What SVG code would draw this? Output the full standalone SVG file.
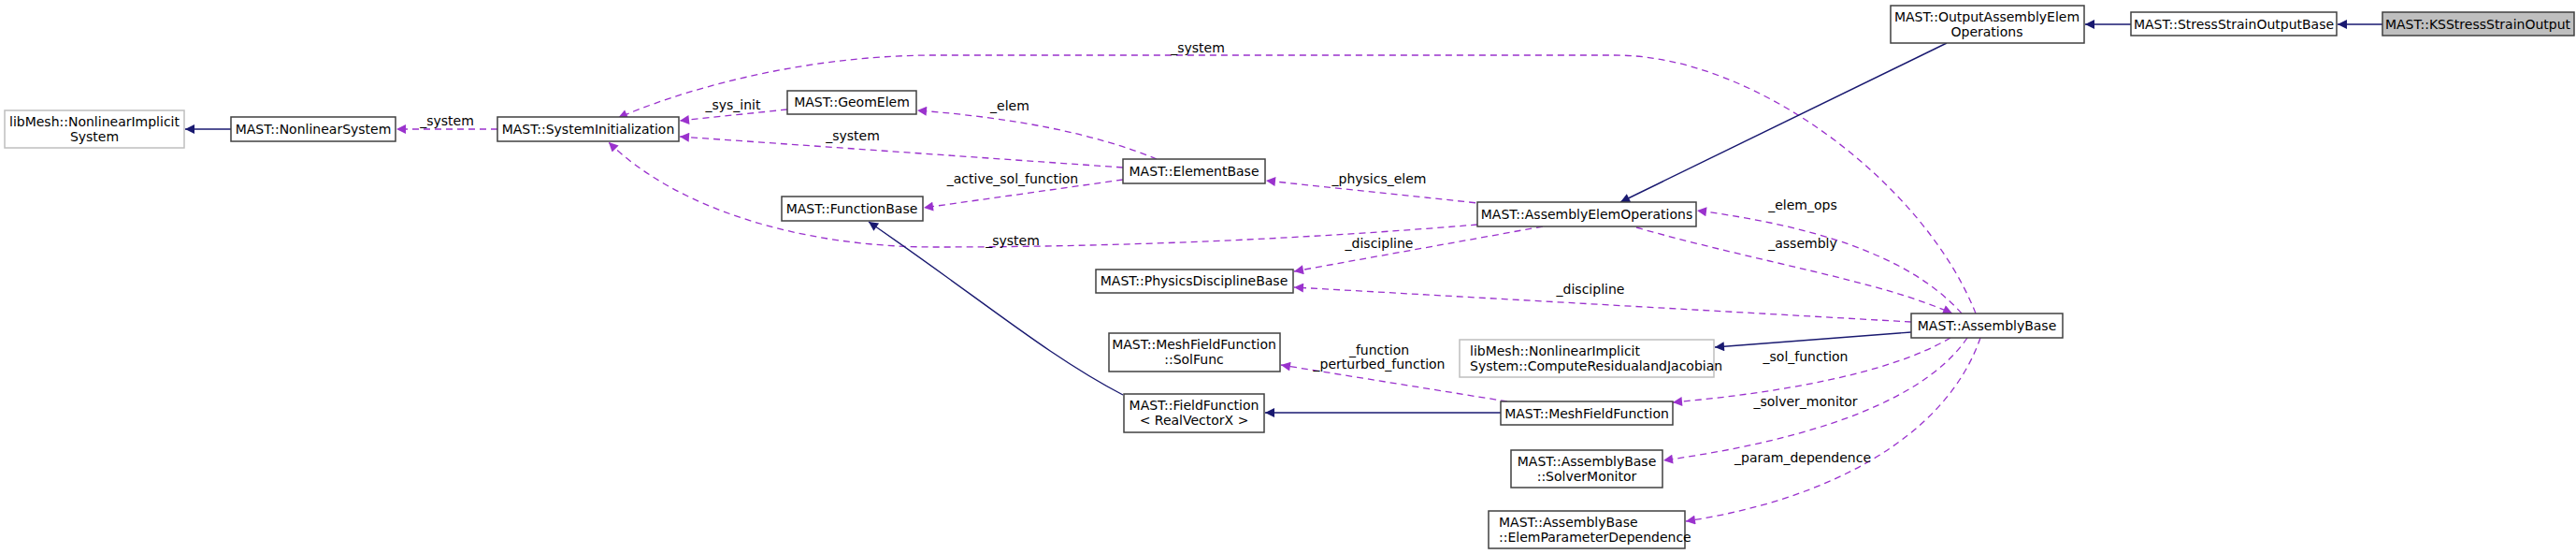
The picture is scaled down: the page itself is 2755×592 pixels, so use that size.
<svg xmlns="http://www.w3.org/2000/svg" width="2755" height="592" viewBox="0 0 2755 592">
<style>
text{font-family:"DejaVu Sans","Liberation Sans",sans-serif;font-size:14px;fill:#000}
.n{fill:#fff;stroke:#404040;stroke-width:1.5}
.g{fill:#fff;stroke:#bfbfbf;stroke-width:1.5}
.h{fill:#bfbfbf;stroke:#404040;stroke-width:1.5}
.d{fill:none;stroke:#9a32cd;stroke-width:1.3;stroke-dasharray:7,5;marker-end:url(#ap)}
.s{fill:none;stroke:#191970;stroke-width:1.4;marker-end:url(#an)}
.l{text-anchor:middle}
</style>
<defs>
<marker id="ap" viewBox="0 0 10 10" refX="10" refY="5" markerWidth="12" markerHeight="10" markerUnits="userSpaceOnUse" orient="auto"><path d="M0,0L10,5L0,10z" fill="#9a32cd"/></marker>
<marker id="an" viewBox="0 0 10 10" refX="10" refY="5" markerWidth="12" markerHeight="10" markerUnits="userSpaceOnUse" orient="auto"><path d="M0,0L10,5L0,10z" fill="#191970"/></marker>
</defs>
<g id="connectors">
<path class="s" d="M247,138H198"/>
<path class="d" d="M532,138H424"/>
<path class="d" d="M842,117L727,129"/>
<path class="d" d="M1201,179L727,146"/>
<path class="d" d="M1237,170Q1140,130 981,118"/>
<path class="d" d="M1201,192L988,222"/>
<path class="d" d="M1590,218L1354,193"/>
<path class="d" d="M1580,240C1400,255 1200,264 1000,264C850,264 720,220 651,152"/>
<path class="d" d="M1650,242L1384,290"/>
<path class="d" d="M2044,344L1384,307"/>
<path class="d" d="M2098,335C2040,270 1930,240 1815,225"/>
<path class="d" d="M1750,243C1880,280 2010,300 2088,335"/>
<path class="d" d="M2113,335C2060,200 1880,59 1727,59H1000C850,59 720,100 661,126"/>
<path class="s" d="M2082,46L1733,216"/>
<path class="s" d="M2279,26H2230"/>
<path class="s" d="M2548,26H2500"/>
<path class="s" d="M1201,422C1120,380 1050,320 929,237"/>
<path class="s" d="M1606,441H1353"/>
<path class="d" d="M1612,429L1370,390"/>
<path class="s" d="M2044,355L1834,371"/>
<path class="d" d="M2086,361C2020,400 1900,420 1789,430"/>
<path class="d" d="M2104,361C2050,440 1900,475 1779,492"/>
<path class="d" d="M2118,361C2080,470 1950,535 1803,557"/>
<text class="l" x="478" y="134">_system</text>
<text class="l" x="784" y="117">_sys_init</text>
<text class="l" x="912" y="150">_system</text>
<text class="l" x="1080" y="118">_elem</text>
<text class="l" x="1083" y="196">_active_sol_function</text>
<text class="l" x="1475" y="196">_physics_elem</text>
<text class="l" x="1083" y="262">_system</text>
<text class="l" x="1475" y="265">_discipline</text>
<text class="l" x="1701" y="314">_discipline</text>
<text class="l" x="1928" y="224">_elem_ops</text>
<text class="l" x="1928" y="265">_assembly</text>
<text class="l" x="1281" y="56">_system</text>
<text class="l" x="1475" y="379">_function</text>
<text class="l" x="1475" y="394">_perturbed_function</text>
<text class="l" x="1931" y="386">_sol_function</text>
<text class="l" x="1931" y="434">_solver_monitor</text>
<text class="l" x="1928" y="494">_param_dependence</text>
</g>
<g id="libMeshNIS"><rect class="g" x="5" y="118" width="192" height="40"/><text class="l" x="101" y="135">libMesh::NonlinearImplicit</text><text class="l" x="101" y="151">System</text></g>
<g id="NonlinearSystem"><rect class="n" x="247" y="125" width="176" height="26"/><text class="l" x="335" y="143">MAST::NonlinearSystem</text></g>
<g id="SystemInitialization"><rect class="n" x="532" y="125" width="194" height="26"/><text class="l" x="629" y="143">MAST::SystemInitialization</text></g>
<g id="GeomElem"><rect class="n" x="842" y="97" width="138" height="25"/><text class="l" x="911" y="114">MAST::GeomElem</text></g>
<g id="FunctionBase"><rect class="n" x="836" y="210" width="151" height="26"/><text class="l" x="911" y="228">MAST::FunctionBase</text></g>
<g id="ElementBase"><rect class="n" x="1201" y="170" width="152" height="26"/><text class="l" x="1277" y="188">MAST::ElementBase</text></g>
<g id="AssemblyElemOperations"><rect class="n" x="1580" y="216" width="234" height="26"/><text class="l" x="1697" y="234">MAST::AssemblyElemOperations</text></g>
<g id="PhysicsDisciplineBase"><rect class="n" x="1172" y="288" width="211" height="25"/><text class="l" x="1277" y="305">MAST::PhysicsDisciplineBase</text></g>
<g id="SolFunc"><rect class="n" x="1186" y="356" width="183" height="41"/><text class="l" x="1277" y="373">MAST::MeshFieldFunction</text><text class="l" x="1277" y="389">::SolFunc</text></g>
<g id="ComputeResidual"><rect class="g" x="1561" y="363" width="272" height="40"/><text x="1572" y="380">libMesh::NonlinearImplicit</text><text x="1572" y="396">System::ComputeResidualandJacobian</text></g>
<g id="FieldFunction"><rect class="n" x="1202" y="421" width="150" height="41"/><text class="l" x="1277" y="438">MAST::FieldFunction</text><text class="l" x="1277" y="454">&lt; RealVectorX &gt;</text></g>
<g id="MeshFieldFunction"><rect class="n" x="1605" y="429" width="184" height="25"/><text class="l" x="1697" y="447">MAST::MeshFieldFunction</text></g>
<g id="SolverMonitor"><rect class="n" x="1616" y="481" width="162" height="40"/><text class="l" x="1697" y="498">MAST::AssemblyBase</text><text class="l" x="1697" y="514">::SolverMonitor</text></g>
<g id="ElemParameterDependence"><rect class="n" x="1592" y="546" width="210" height="40"/><text x="1603" y="563">MAST::AssemblyBase</text><text x="1603" y="579">::ElemParameterDependence</text></g>
<g id="OutputAssemblyElemOperations"><rect class="n" x="2022" y="6" width="207" height="40"/><text class="l" x="2125" y="23">MAST::OutputAssemblyElem</text><text class="l" x="2125" y="39">Operations</text></g>
<g id="StressStrainOutputBase"><rect class="n" x="2279" y="13" width="220" height="25"/><text class="l" x="2389" y="31">MAST::StressStrainOutputBase</text></g>
<g id="KSStressStrainOutput"><rect class="h" x="2548" y="13" width="205" height="25"/><text class="l" x="2650" y="31">MAST::KSStressStrainOutput</text></g>
<g id="AssemblyBase"><rect class="n" x="2044" y="335" width="162" height="26"/><text class="l" x="2125" y="353">MAST::AssemblyBase</text></g>
</svg>
